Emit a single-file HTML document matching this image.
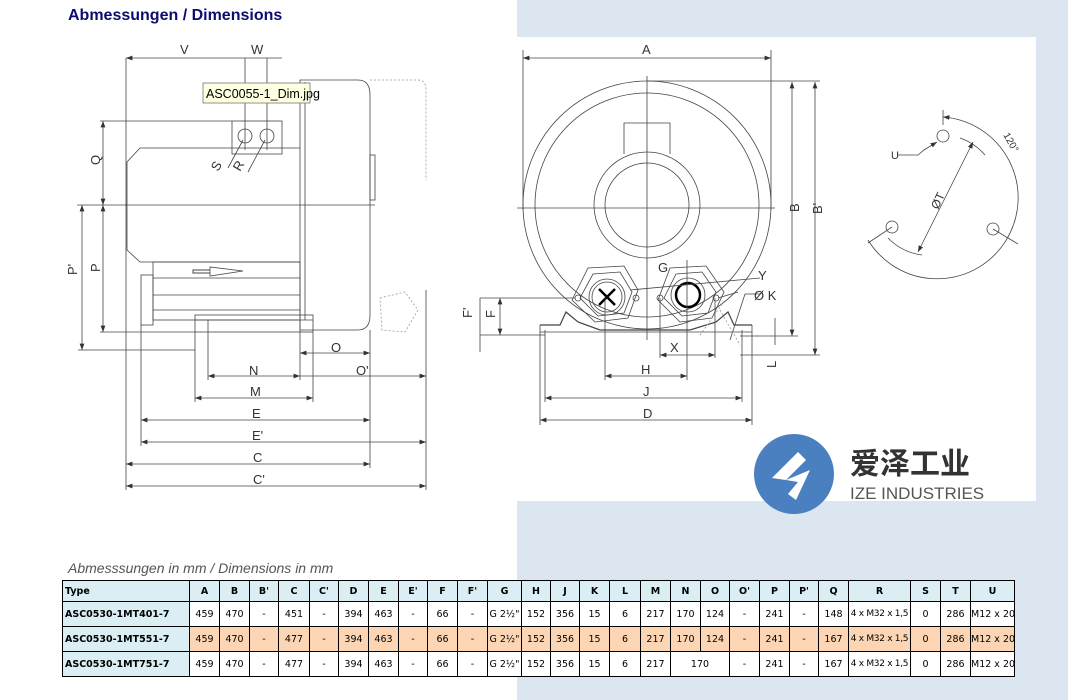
<!DOCTYPE html>
<html><head><meta charset="utf-8"><style>
body{margin:0;width:1068px;height:700px;position:relative;background:#fff;overflow:hidden;font-family:"Liberation Sans",sans-serif}
.t{position:absolute;font-family:"DejaVu Sans",sans-serif;font-size:9.5px;border-collapse:collapse;left:62px;top:580px;table-layout:fixed;width:952px}
.t td{border:1px solid #000;text-align:center;padding:0;height:24px;white-space:nowrap;overflow:hidden}
.t tr.h td{height:20px;background:#daeef3;font-weight:bold}
.t td.ty{background:#daeef3;font-weight:bold;text-align:left;padding-left:2px}
.t td.r{font-size:9px;letter-spacing:-0.3px}
.t tr.o td{background:#fcd5b4}
.t tr.o td.ty{background:#daeef3}
.t tr.w td{background:#fff}
.t tr.w td.ty{background:#daeef3}
</style></head><body>
<div style="position:absolute;left:517px;top:0;width:551px;height:700px;background:#dce6f1"></div>
<div style="position:absolute;left:517px;top:37px;width:519px;height:464px;background:#fff"></div>
<div style="position:absolute;left:68px;top:7px;font-weight:bold;font-size:16px;color:#0c0c70">Abmessungen / Dimensions</div>
<div style="position:absolute;left:68px;top:560px;font-style:italic;font-size:14px;color:#555">Abmesssungen in mm / Dimensions in mm</div>
<svg width="1068" height="560" style="position:absolute;left:0;top:0" font-family="Liberation Sans,sans-serif" font-size="13" fill="none" stroke="#444" stroke-width="0.8">
<defs><marker id="a" markerWidth="8" markerHeight="6" refX="8" refY="3" orient="auto-start-reverse"><path d="M0,0L8,3L0,6z" fill="#333" stroke="none"/></marker></defs>
<g>
<line x1="126" y1="58" x2="126" y2="490"/>
<line x1="126" y1="58" x2="282" y2="58" marker-start="url(#a)"/>
<line x1="245" y1="58" x2="245" y2="150"/><line x1="267" y1="58" x2="267" y2="150"/>
<rect x="232" y="121" width="50" height="33"/>
<circle cx="245" cy="136" r="7"/><circle cx="267" cy="136" r="7"/>
<line x1="228" y1="168" x2="243" y2="140"/><line x1="248" y1="172" x2="265" y2="140"/>
<path d="M300,148H140L127,162V250L140,262H300"/>
<path d="M300,80H358Q370,80 370,95V315Q370,330 358,330H300Z"/>
<line x1="305" y1="82" x2="305" y2="320"/>
<rect x="370" y="155" width="5" height="45"/>
<path d="M370,80H418Q426,80 426,90V180" stroke-dasharray="2,2" stroke="#999"/>
<path d="M380,298L405,292L418,310L405,332L382,330Z" stroke-dasharray="2,2" stroke="#999"/>
<line x1="77" y1="205" x2="375" y2="205"/>
<line x1="100" y1="121" x2="232" y2="121"/>
<line x1="103" y1="121" x2="103" y2="205" marker-start="url(#a)" marker-end="url(#a)"/>
<line x1="82" y1="205" x2="82" y2="350" marker-start="url(#a)" marker-end="url(#a)"/>
<line x1="103" y1="205" x2="103" y2="332" marker-start="url(#a)" marker-end="url(#a)"/>
<line x1="100" y1="332" x2="195" y2="332"/><line x1="78" y1="350" x2="195" y2="350"/>
<rect x="153" y="262" width="147" height="58"/>
<line x1="153" y1="278" x2="300" y2="278"/><line x1="153" y1="295" x2="300" y2="295"/><line x1="153" y1="310" x2="300" y2="310"/>
<rect x="141" y="275" width="12" height="50"/>
<path d="M210,270H193V273H210" stroke-width="1"/><path d="M210,267V276L243,271Z" fill="#fff"/>
<rect x="195" y="315" width="118" height="17"/><line x1="195" y1="320" x2="313" y2="320"/>
<line x1="141" y1="325" x2="141" y2="446"/>
<line x1="195" y1="332" x2="195" y2="402"/><line x1="313" y1="332" x2="313" y2="402"/>
<line x1="208" y1="320" x2="208" y2="380"/><line x1="300" y1="320" x2="300" y2="380"/>
<line x1="370" y1="330" x2="370" y2="468"/><line x1="426" y1="290" x2="426" y2="490"/>
<line x1="300" y1="353" x2="370" y2="353" marker-start="url(#a)" marker-end="url(#a)"/>
<line x1="300" y1="376" x2="426" y2="376" marker-end="url(#a)"/>
<line x1="208" y1="376" x2="300" y2="376" marker-start="url(#a)" marker-end="url(#a)"/>
<line x1="195" y1="398" x2="313" y2="398" marker-start="url(#a)" marker-end="url(#a)"/>
<line x1="141" y1="420" x2="370" y2="420" marker-start="url(#a)" marker-end="url(#a)"/>
<line x1="141" y1="442" x2="426" y2="442" marker-start="url(#a)" marker-end="url(#a)"/>
<line x1="126" y1="464" x2="370" y2="464" marker-start="url(#a)" marker-end="url(#a)"/>
<line x1="126" y1="486" x2="426" y2="486" marker-start="url(#a)" marker-end="url(#a)"/>
<line x1="523" y1="50" x2="523" y2="210"/><line x1="771" y1="50" x2="771" y2="210"/>
<line x1="523" y1="58" x2="771" y2="58" marker-start="url(#a)" marker-end="url(#a)"/>
<circle cx="647" cy="205" r="124"/><circle cx="647" cy="205" r="112"/>
<circle cx="647" cy="205" r="53"/><circle cx="647" cy="205" r="42"/>
<path d="M624,154V123H670V154"/>
<line x1="517" y1="208" x2="775" y2="208"/><line x1="647" y1="76" x2="647" y2="340"/>
<line x1="647" y1="81" x2="820" y2="81"/>
<line x1="792" y1="82" x2="792" y2="336" marker-start="url(#a)" marker-end="url(#a)"/>
<line x1="815" y1="82" x2="815" y2="355" marker-start="url(#a)" marker-end="url(#a)"/>
<line x1="740" y1="336" x2="798" y2="336"/><line x1="740" y1="355" x2="820" y2="355"/>
<path d="M588,268L624,266L638,290L628,318L595,322L572,300Z"/>
<path d="M593,274L620,272L632,292L624,313L598,316L580,298Z"/>
<circle cx="607" cy="297" r="18"/><circle cx="607" cy="297" r="15"/>
<path d="M599,289L615,305M615,289L599,305" stroke="#000" stroke-width="2.5"/>
<path d="M670,268L706,266L724,292L712,318L680,322L658,300Z"/>
<path d="M676,274L702,272L716,292L708,313L682,316L664,298Z"/>
<circle cx="688" cy="295" r="17"/><circle cx="688" cy="295" r="12" stroke="#000" stroke-width="2.5"/>
<circle cx="578" cy="298" r="3"/><circle cx="636" cy="298" r="3"/><circle cx="660" cy="298" r="3"/><circle cx="716" cy="298" r="3"/>
<path d="M540,325H560L566,312L578,322L600,330H690L716,322L728,312L734,325H752" stroke-width="1.2"/>
<path d="M540,332H752"/>
<line x1="480" y1="298" x2="575" y2="298"/><line x1="480" y1="335" x2="545" y2="335"/>
<line x1="500" y1="298" x2="500" y2="335" marker-start="url(#a)" marker-end="url(#a)"/>
<line x1="480" y1="298" x2="480" y2="352"/>
<line x1="540" y1="325" x2="540" y2="425"/><line x1="752" y1="325" x2="752" y2="425"/>
<line x1="545" y1="330" x2="545" y2="402"/><line x1="742" y1="330" x2="742" y2="402"/>
<line x1="605" y1="297" x2="605" y2="380"/><line x1="687" y1="260" x2="687" y2="380"/>
<line x1="660" y1="298" x2="660" y2="358"/><line x1="715" y1="298" x2="715" y2="358"/>
<line x1="660" y1="355" x2="715" y2="355" marker-start="url(#a)" marker-end="url(#a)"/>
<line x1="605" y1="376" x2="687" y2="376" marker-start="url(#a)" marker-end="url(#a)"/>
<line x1="545" y1="398" x2="742" y2="398" marker-start="url(#a)" marker-end="url(#a)"/>
<line x1="540" y1="420" x2="752" y2="420" marker-start="url(#a)" marker-end="url(#a)"/>
<line x1="775" y1="318" x2="775" y2="345"/>
<line x1="630" y1="290" x2="760" y2="278"/><line x1="718" y1="298" x2="738" y2="292"/>
<path d="M760,294H745L730,340" /><path d="M720,310L740,345M700,335L725,300" stroke-dasharray="2,2" stroke="#999"/>
<circle cx="943" cy="136" r="6"/><circle cx="892" cy="227" r="6"/><circle cx="993" cy="229" r="6"/>
<path d="M943,117A81,81 0 1,1 868,240" marker-start="url(#a)"/>
<path d="M960,138A58,58 0 0,1 985,155"/><path d="M888,238A58,58 0 0,0 922,255"/>
<line x1="943" y1="110" x2="943" y2="125"/>
<line x1="973" y1="142" x2="918" y2="252" marker-start="url(#a)" marker-end="url(#a)"/>
<line x1="892" y1="227" x2="868" y2="243"/><line x1="993" y1="229" x2="1018" y2="244"/>
<path d="M898,155H918L924,150L937,142" marker-end="url(#a)"/>
</g>
<g fill="#333" stroke="none" font-size="13">
<text x="180" y="54">V</text><text x="251" y="54">W</text>
<text x="100" y="165" transform="rotate(-90 100 165)">Q</text>
<text x="77" y="275" transform="rotate(-90 77 275)">P'</text>
<text x="100" y="272" transform="rotate(-90 100 272)">P</text>
<text x="218" y="172" transform="rotate(-60 218 172)">S</text>
<text x="240" y="172" transform="rotate(-60 240 172)">R</text>
<text x="331" y="352">O</text><text x="356" y="375">O'</text>
<text x="249" y="375">N</text><text x="250" y="396">M</text><text x="252" y="418">E</text><text x="252" y="440">E'</text>
<text x="253" y="462">C</text><text x="253" y="484">C'</text>
<text x="642" y="54">A</text>
<text x="799" y="212" transform="rotate(-90 799 212)">B</text>
<text x="822" y="214" transform="rotate(-90 822 214)">B'</text>
<text x="658" y="272">G</text><text x="758" y="280">Y</text><text x="754" y="300">Ø K</text>
<text x="472" y="318" transform="rotate(-90 472 318)">F'</text>
<text x="495" y="318" transform="rotate(-90 495 318)">F</text>
<text x="670" y="352">X</text><text x="641" y="374">H</text><text x="643" y="396">J</text><text x="643" y="418">D</text>
<text x="776" y="368" transform="rotate(-90 776 368)">L</text>
<text x="891" y="159" font-size="11">U</text>
<text x="938" y="210" font-size="12" transform="rotate(-65 938 210)">ØT</text>
<text x="1003" y="135" font-size="10" transform="rotate(60 1003 135)">120°</text>
</g>
<rect x="203" y="83" width="107" height="20" fill="#ffffe1" stroke="#777"/>
<text x="206" y="98" fill="#000" stroke="none" font-size="12.5">ASC0055-1_Dim.jpg</text>
<circle cx="794" cy="474" r="40" fill="#4a80c0" stroke="none"/>
<path d="M772,478L798,452L806,460L786,480Z M786,480L810,470L796,500L788,494L798,482Z" fill="#fff" stroke="none"/>
<text x="850" y="474" fill="#333" stroke="none" font-size="30" font-weight="bold" font-family="Noto Sans CJK SC,sans-serif">爱泽工业</text>
<text x="850" y="499" fill="#555" stroke="none" font-size="17">IZE INDUSTRIES</text>
</svg>
<table class="t">
<colgroup><col style="width:127px"><col style="width:30px"><col style="width:30px"><col style="width:29px"><col style="width:31px"><col style="width:29px"><col style="width:30px"><col style="width:30px"><col style="width:29px"><col style="width:30px"><col style="width:30px"><col style="width:34px"><col style="width:29px"><col style="width:29px"><col style="width:30px"><col style="width:31px"><col style="width:30px"><col style="width:30px"><col style="width:29px"><col style="width:30px"><col style="width:30px"><col style="width:29px"><col style="width:30px"><col style="width:62px"><col style="width:30px"><col style="width:30px"><col style="width:44px"></colgroup>
<tr class="h"><td style="text-align:left;padding-left:2px">Type</td><td>A</td><td>B</td><td>B'</td><td>C</td><td>C'</td><td>D</td><td>E</td><td>E'</td><td>F</td><td>F'</td><td>G</td><td>H</td><td>J</td><td>K</td><td>L</td><td>M</td><td>N</td><td>O</td><td>O'</td><td>P</td><td>P'</td><td>Q</td><td>R</td><td>S</td><td>T</td><td>U</td></tr>
<tr class="w"><td class="ty">ASC0530-1MT401-7</td><td>459</td><td>470</td><td>-</td><td>451</td><td>-</td><td>394</td><td>463</td><td>-</td><td>66</td><td>-</td><td>G 2½"</td><td>152</td><td>356</td><td>15</td><td>6</td><td>217</td><td>170</td><td>124</td><td>-</td><td>241</td><td>-</td><td>148</td><td class="r">4 x M32 x 1,5</td><td>0</td><td>286</td><td>M12 x 20</td></tr>
<tr class="o"><td class="ty">ASC0530-1MT551-7</td><td>459</td><td>470</td><td>-</td><td>477</td><td>-</td><td>394</td><td>463</td><td>-</td><td>66</td><td>-</td><td>G 2½"</td><td>152</td><td>356</td><td>15</td><td>6</td><td>217</td><td>170</td><td>124</td><td>-</td><td>241</td><td>-</td><td>167</td><td class="r">4 x M32 x 1,5</td><td>0</td><td>286</td><td>M12 x 20</td></tr>
<tr class="w"><td class="ty">ASC0530-1MT751-7</td><td>459</td><td>470</td><td>-</td><td>477</td><td>-</td><td>394</td><td>463</td><td>-</td><td>66</td><td>-</td><td>G 2½"</td><td>152</td><td>356</td><td>15</td><td>6</td><td>217</td><td colspan="2">170</td><td>-</td><td>241</td><td>-</td><td>167</td><td class="r">4 x M32 x 1,5</td><td>0</td><td>286</td><td>M12 x 20</td></tr>
</table>
</body></html>
